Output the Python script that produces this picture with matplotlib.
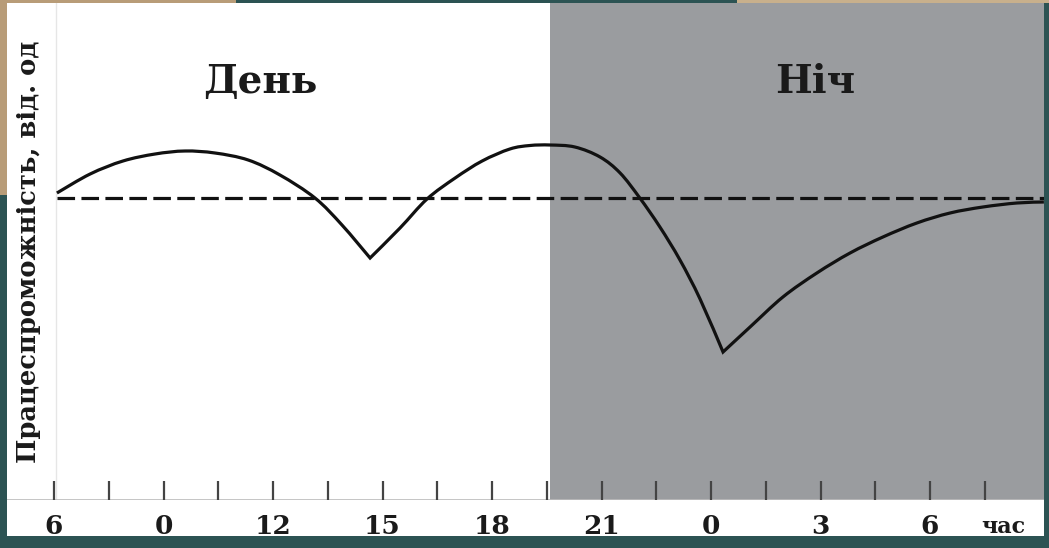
import matplotlib
matplotlib.use("Agg")
import matplotlib.pyplot as plt
from matplotlib.patches import Rectangle, PathPatch
from matplotlib.path import Path

# ---- data ----
hours = [6.08, 6.99, 7.89, 8.77, 9.59, 10.41, 11.32, 12.19, 13.15, 13.89, 14.66,
         15.48, 16.22, 16.99, 17.73, 18.49, 19.04, 19.59, 20.27, 20.96, 21.51,
         22.05, 22.60, 23.15, 23.70, 24.33,
         25.07, 25.97, 26.90, 27.81, 28.71, 29.64, 30.55, 31.45, 32.38, 33.12]
capacity = [0.10, 0.48, 0.74, 0.88, 0.94, 0.90, 0.76, 0.46, 0.00, -0.54, -1.20,
            -0.60, -0.02, 0.40, 0.74, 0.98, 1.05, 1.06, 1.02, 0.82, 0.50,
            0.00, -0.58, -1.24, -2.02, -3.08,
            -2.58, -1.98, -1.50, -1.10, -0.78, -0.50, -0.30, -0.18, -0.10, -0.08]
sharp_minima = [10, 25]          # indices where the curve has a corner
baseline_level = 0.0
night_start = 19.59
tick_hours = [6 + 1.5 * i for i in range(18)]
label_hours = [6, 9, 12, 15, 18, 21, 24, 27, 30]
label_texts = ["6", "0", "12", "15", "18", "21", "0", "3", "6"]
unit_text = "час"
ylabel_text = "Працеспроможність, від. од"
day_text = "День"
night_text = "Ніч"

W, H = 1049, 548
fig = plt.figure(figsize=(W / 100, H / 100), dpi=100, facecolor="#2c5353")

def fx(px):
    return px / W

def fy(py):
    return 1 - py / H

# slide background details
fig.patches.append(Rectangle((fx(0), fy(195)), fx(7), 195 / H, transform=fig.transFigure,
                             facecolor="#b89c78", edgecolor="none", zorder=-3))
fig.patches.append(Rectangle((fx(0), fy(3)), fx(236), 3 / H, transform=fig.transFigure,
                             facecolor="#b89c78", edgecolor="none", zorder=-3))
fig.patches.append(Rectangle((fx(737), fy(3)), fx(312), 3 / H, transform=fig.transFigure,
                             facecolor="#c8b08c", edgecolor="none", zorder=-3))
# white panel
fig.patches.append(Rectangle((fx(7), fy(536)), fx(1037), 533 / H, transform=fig.transFigure,
                             facecolor="white", edgecolor="none", zorder=-2))

ax_l, ax_r, ax_t, ax_b = 7, 1044, 3, 500
ax = fig.add_axes([fx(ax_l), fy(ax_b), fx(ax_r - ax_l), (ax_b - ax_t) / H])
ax.set_zorder(1)
ax.set_facecolor("none")

px_per_h = 36.5
h0 = 6 - (54 - ax_l) / px_per_h
h1 = 6 + (ax_r - 54) / px_per_h
ax.set_xlim(h0, h1)
ax.set_ylim((198 - ax_b) / 50, (198 - ax_t) / 50)

ax.axvspan(night_start, h1, color="#9a9c9f", zorder=0, lw=0)

# smooth curve (Catmull-Rom as cubic Bezier), with corners at the minima
bounds = [0] + sharp_minima + [len(hours) - 1]
verts, codes = [], []
for a, b in zip(bounds[:-1], bounds[1:]):
    pts = list(zip(hours[a:b + 1], capacity[a:b + 1]))
    n = len(pts)
    if not verts:
        verts.append(pts[0]); codes.append(Path.MOVETO)
    for i in range(n - 1):
        p0 = pts[i - 1] if i > 0 else pts[i]
        p1 = pts[i]
        p2 = pts[i + 1]
        p3 = pts[i + 2] if i + 2 < n else pts[i + 1]
        c1 = (p1[0] + (p2[0] - p0[0]) / 6, p1[1] + (p2[1] - p0[1]) / 6)
        c2 = (p2[0] - (p3[0] - p1[0]) / 6, p2[1] - (p3[1] - p1[1]) / 6)
        verts += [c1, c2, p2]
        codes += [Path.CURVE4] * 3
ax.add_patch(PathPatch(Path(verts, codes), facecolor="none", edgecolor="#111111",
                       lw=2.3, joinstyle="miter", zorder=3))

ax.axhline(baseline_level, xmin=(hours[0] - h0) / (h1 - h0), color="#111111",
           lw=2.3, dashes=(5.5, 2.0), zorder=2)

for s in ax.spines.values():
    s.set_visible(False)
ax.axhline(ax.get_ylim()[0], color="#bbbbbb", lw=1.2, zorder=1)
ax.set_xticks(tick_hours)
ax.tick_params(axis="x", direction="in", length=14, width=1.6, color="#444444",
               labelbottom=False)
ax.set_yticks([])
ax.axvline(6.05, color="#e6e6e6", lw=1, zorder=0.5)

serif = ["DejaVu Serif"]
for hx, t in zip(label_hours, label_texts):
    fig.text(fx(ax_l + (hx - h0) * px_per_h), fy(526), t, ha="center", va="center",
             fontsize=19, fontweight="bold", family=serif, color="#1a1a1a")
fig.text(fx(1003), fy(527), unit_text, ha="center", va="center", fontsize=16,
         fontweight="bold", family=serif, color="#1a1a1a")

fig.text(fx(29), fy(252), ylabel_text, rotation=90, ha="center", va="center",
         fontsize=18.5, fontweight="bold", family=serif, color="#1a1a1a")
fig.text(fx(260), fy(82), day_text, ha="center", va="center", fontsize=28,
         fontweight="bold", family=serif, color="#1a1a1a")
fig.text(fx(815), fy(82), night_text, ha="center", va="center", fontsize=28,
         fontweight="bold", family=serif, color="#1a1a1a")

fig.savefig("out.png", dpi=100, facecolor=fig.get_facecolor())
